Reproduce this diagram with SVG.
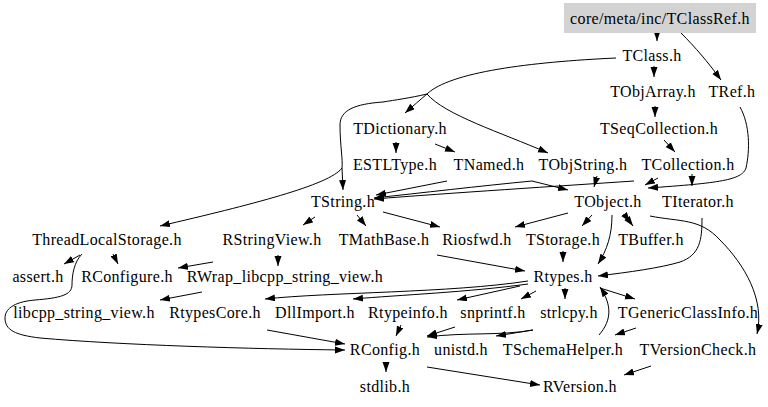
<svg xmlns="http://www.w3.org/2000/svg" width="768" height="407" viewBox="0 0 768 407">
<style>
text{font-family:"Liberation Serif","Times New Roman",serif;font-size:16px;letter-spacing:0.35px;fill:#000;text-anchor:middle}
.e path{fill:none;stroke:#000;stroke-width:1;marker-end:url(#ah)}
.e path.t{marker-end:none}
</style>
<defs>
<marker id="ah" markerUnits="userSpaceOnUse" markerWidth="11" markerHeight="8" refX="10" refY="3.5" orient="auto"><path d="M0,0 L10,3.5 L0,7 z" fill="#000"/></marker>
<marker id="at" markerUnits="userSpaceOnUse" markerWidth="11" markerHeight="8" refX="0" refY="3.5" orient="auto"><path d="M0,0 L10,3.5 L0,7 z" fill="#000"/></marker>
</defs>
<rect width="768" height="407" fill="#fff"/>
<g class="e" id="edges">
<path d="M657,31 L657,41"/>
<path d="M681,33 C695,47 708,62 721,80"/>
<path d="M654,66 L654,77"/>
<path class="t" d="M616,58 C530,62 450,72 427,94"/>
<path d="M427,94 C420,100 413,106 405,113"/>
<path d="M427,94 C445,115 500,132 548,153"/>
<path class="t" d="M427,94 C410,98 395,100 383,102 C355,104 340,110 340,125 C340,145 343,160 342,168"/>
<path d="M342,168 L343,190"/>
<path d="M342,168 C330,185 250,205 160,226"/>
<path d="M655,106 L655,117"/>
<path d="M664,140 L675,152"/>
<path d="M396,142 L396,153"/>
<path d="M435,144 L455,152"/>
<path d="M740,107 C750,125 750,150 746,168 C742,180 720,183 648,188"/>
<path d="M658,178 L645,185"/>
<path d="M692,174 L692,186"/>
<path d="M634,181 C560,186 450,193 374,199"/>
<path d="M532,181 C480,186 420,193 374,198"/>
<path d="M532,181 L568,190"/>
<path d="M447,181 L376,195"/>
<path d="M597,176 L594,187"/>
<path d="M315,217 L303,225"/>
<path d="M357,215 L366,226"/>
<path d="M383,212 L440,227"/>
<path d="M568,213 L515,227"/>
<path d="M592,215 L582,226"/>
<path d="M624,214 L633,226" marker-start="url(#at)"/>
<path d="M612,215 C612,235 607,250 598,264"/>
<path d="M650,216 C680,222 700,218 720,240 C745,265 765,300 757,334"/>
<path d="M702,218 C702,240 700,255 680,262 C660,268 630,272 598,276"/>
<path d="M563,251 L563,262"/>
<path d="M437,255 L525,271"/>
<path d="M80,255 L64,264"/>
<path d="M113,254 L118,264"/>
<path d="M82,254 C74,262 72,275 72,285 C72,295 60,298 35,300 C12,302 5,310 5,318 C5,330 15,335 40,338 C120,345 250,349 345,350"/>
<path d="M213,262 L178,268"/>
<path d="M278,255 L278,266"/>
<path d="M202,292 L160,300"/>
<path d="M528,281 C450,293 330,292 265,299"/>
<path d="M528,284 C470,292 400,295 353,299"/>
<path d="M520,286 L457,300"/>
<path d="M536,291 L521,299"/>
<path d="M565,288 L565,299"/>
<path d="M600,288 L635,299"/>
<path d="M599,335 C612,320 612,305 600,287"/>
<path d="M636,328 L615,335"/>
<path d="M401,325 L396,336"/>
<path d="M455,327 L427,336"/>
<path d="M533,330 C500,336 465,332 427,337"/>
<path d="M533,330 L496,336"/>
<path d="M267,330 L345,344"/>
<path d="M386,362 L386,372"/>
<path d="M427,367 L540,385"/>
<path d="M651,366 L624,375"/>
</g>
<g id="n_TClassRef"><rect x="564" y="3" width="192" height="30" fill="#d3d3d3"/><text x="660" y="24">core/meta/inc/TClassRef.h</text></g>
<g id="n_TClass"><text x="652" y="61">TClass.h</text></g>
<g id="n_TObjArray"><text x="653" y="97">TObjArray.h</text></g>
<g id="n_TRef"><text x="732" y="97">TRef.h</text></g>
<g id="n_TDictionary"><text x="400" y="134">TDictionary.h</text></g>
<g id="n_TSeqCollection"><text x="659" y="134">TSeqCollection.h</text></g>
<g id="n_ESTLType"><text x="395" y="170">ESTLType.h</text></g>
<g id="n_TNamed"><text x="489" y="170">TNamed.h</text></g>
<g id="n_TObjString"><text x="583" y="170">TObjString.h</text></g>
<g id="n_TCollection"><text x="688" y="170">TCollection.h</text></g>
<g id="n_TString"><text x="343" y="207">TString.h</text></g>
<g id="n_TObject"><text x="608" y="207">TObject.h</text></g>
<g id="n_TIterator"><text x="698" y="207">TIterator.h</text></g>
<g id="n_ThreadLocalStorage"><text x="107" y="245">ThreadLocalStorage.h</text></g>
<g id="n_RStringView"><text x="272" y="245">RStringView.h</text></g>
<g id="n_TMathBase"><text x="384" y="245">TMathBase.h</text></g>
<g id="n_Riosfwd"><text x="477" y="245">Riosfwd.h</text></g>
<g id="n_TStorage"><text x="563" y="245">TStorage.h</text></g>
<g id="n_TBuffer"><text x="651" y="245">TBuffer.h</text></g>
<g id="n_assert"><text x="38" y="282">assert.h</text></g>
<g id="n_RConfigure"><text x="127" y="282">RConfigure.h</text></g>
<g id="n_RWrap"><text x="285" y="282">RWrap_libcpp_string_view.h</text></g>
<g id="n_Rtypes"><text x="563" y="282">Rtypes.h</text></g>
<g id="n_libcpp"><text x="84" y="318">libcpp_string_view.h</text></g>
<g id="n_RtypesCore"><text x="215" y="318">RtypesCore.h</text></g>
<g id="n_DllImport"><text x="315" y="318">DllImport.h</text></g>
<g id="n_Rtypeinfo"><text x="408" y="318">Rtypeinfo.h</text></g>
<g id="n_snprintf"><text x="493" y="318">snprintf.h</text></g>
<g id="n_strlcpy"><text x="569" y="318">strlcpy.h</text></g>
<g id="n_TGenericClassInfo"><text x="688" y="318">TGenericClassInfo.h</text></g>
<g id="n_RConfig"><text x="385" y="355">RConfig.h</text></g>
<g id="n_unistd"><text x="461" y="355">unistd.h</text></g>
<g id="n_TSchemaHelper"><text x="563" y="355">TSchemaHelper.h</text></g>
<g id="n_TVersionCheck"><text x="698" y="355">TVersionCheck.h</text></g>
<g id="n_stdlib"><text x="385" y="392">stdlib.h</text></g>
<g id="n_RVersion"><text x="580" y="392">RVersion.h</text></g>
</svg>
